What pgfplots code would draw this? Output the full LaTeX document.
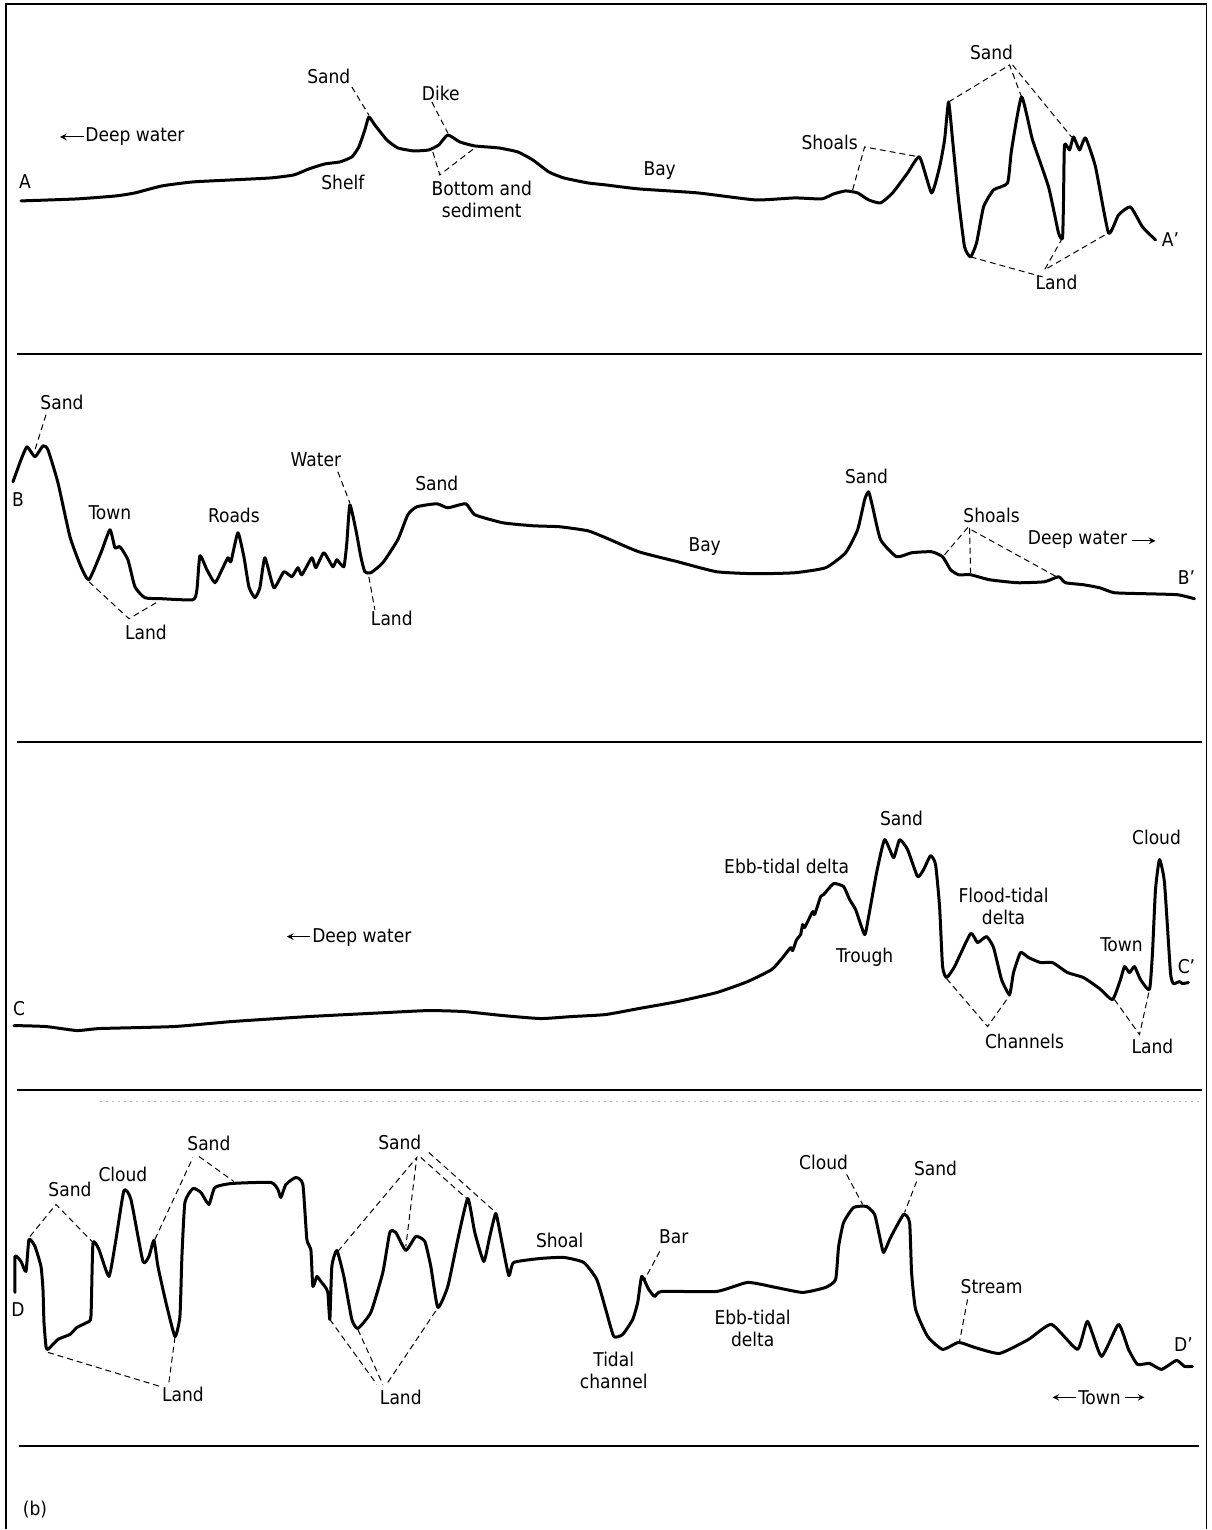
\documentclass[border=0pt]{standalone}
\usepackage{fontspec}
\setmainfont{DejaVu Sans Condensed}
\usepackage{pgfplots}
\pgfplotsset{compat=1.18}
\tikzset{
  prof/.style={black, line width=1.5pt, line join=round, line cap=round, smooth, tension=0.3},
  sep/.style={black, line width=1pt},
  lead/.style={black, line width=0.5pt, dash pattern=on 3pt off 2pt},
  lab/.style={font=\fontsize{9.5}{11}\selectfont, inner sep=0pt, align=center},
}
\begin{document}
\begin{tikzpicture}
\begin{axis}[
  width=606pt, height=765pt, scale only axis,
  xmin=0, xmax=1212, ymin=0, ymax=1530, y dir=reverse,
  hide axis, clip=false,
]
% extent and frame
\addplot[draw=none] coordinates {(0,0) (1212,1530)};
\addplot[black, line width=0.7pt] coordinates {(6,1530) (6,4) (1207,4) (1207,1530)};
\addplot[sep] coordinates {(17,354) (1203,354)};
\addplot[sep] coordinates {(17,742) (1203,742)};
\addplot[sep] coordinates {(17,1090) (1203,1090)};
\addplot[sep] coordinates {(19,1447) (1200,1447)};
\addplot[gray!50, line width=0.4pt, dash pattern=on 1pt off 2pt] coordinates {(100,1102) (1200,1102)};

% ---------------- Panel A ----------------
\addplot[prof] coordinates {(21,201)(77,199)(116,196)(135,193)(162,186)(193,182)(232,180)(271,178)(294,175)(309,169)(325,164)(340,162)(352,157)(359,147)(365,130)(369,117)(375,125)(387,140)(398,148)(414,151)(429,150)(439,145)(448,135)(460,142)(475,146)(499,148)(518,152)(533,160)(549,172)(564,178)(588,183)(606,185)(639,189)(698,193)(756,200)(795,198)(822,199)(834,194)(846,191)(858,193)(869,200)(881,203)(893,193)(908,173)(920,157)(932,193)(940,167)(945,140)(949,102)(953,140)(959,200)(965,247)(971,257)(977,243)(984,207)(994,190)(1008,183)(1012,150)(1022,97)(1033,140)(1049,187)(1059,233)(1063,238)(1064,200)(1065,145)(1070,150)(1074,137)(1080,150)(1086,138)(1096,167)(1109,233)(1119,215)(1131,207)(1143,227)(1156,240)};
\addplot[lead] coordinates {(352,87) (369,115)};
\addplot[lead] coordinates {(432,102) (448,133)};
\addplot[lead] coordinates {(433,152) (440,175) (475,148)};
\addplot[lead] coordinates {(853,190) (865,147) (920,157)};
\addplot[lead] coordinates {(949,102) (1010,65) (1022,97)};
\addplot[lead] coordinates {(1013,65) (1072,137)};
\addplot[lead] coordinates {(971,257) (1043,277)};
\addplot[lead] coordinates {(1063,238) (1045,270) (1109,233)};
\addplot[black, line width=0.5pt, -stealth] coordinates {(84,137) (60,137)};
\node[lab] at (axis cs:25,182) {A};
\node[lab, anchor=west] at (axis cs:85,137) {Deep water};
\node[lab] at (axis cs:329,76) {Sand};
\node[lab] at (axis cs:441,93) {Dike};
\node[lab] at (axis cs:343,183) {Shelf};
\node[lab] at (axis cs:482,200) {Bottom and\\sediment};
\node[lab] at (axis cs:660,171) {Bay};
\node[lab] at (axis cs:830,142) {Shoals};
\node[lab] at (axis cs:992,52) {Sand};
\node[lab] at (axis cs:1057,283) {Land};
\node[lab] at (axis cs:1171,240) {A'};

% ---------------- Panel B ----------------
\addplot[prof] coordinates {(13,482)(21,460)(27,447)(35,457)(43,446)(48,450)(58,483)(70,537)(81,567)(89,580)(101,553)(110,530)(115,548)(120,547)(128,560)(135,587)(145,598)(162,599)(193,600)(197,590)(200,556)(207,570)(215,583)(222,570)(228,558)(231,562)(238,533)(244,557)(249,587)(255,598)(260,588)(265,558)(274,588)(284,572)(292,577)(298,568)(302,575)(312,558)(316,568)(324,553)(333,567)(337,560)(344,567)(347,543)(350,505)(356,530)(361,557)(365,572)(371,573)(383,563)(398,540)(408,515)(417,507)(437,504)(448,508)(466,504)(475,515)(503,523)(533,526)(560,527)(588,531)(606,538)(639,552)(678,562)(717,572)(756,574)(795,573)(826,568)(846,553)(858,530)(865,500)(869,492)(873,507)(881,540)(897,557)(912,553)(932,552)(943,557)(951,570)(959,575)(971,575)(990,580)(1018,583)(1045,582)(1059,577)(1066,583)(1084,585)(1100,588)(1115,593)(1146,594)(1178,595)(1195,599)};
\addplot[lead] coordinates {(46,415) (35,450)};
\addplot[lead] coordinates {(89,582) (129,619) (158,602)};
\addplot[lead] coordinates {(338,472) (350,503)};
\addplot[lead] coordinates {(369,577) (375,610)};
\addplot[lead] coordinates {(945,555) (968,528) (1057,577)};
\addplot[lead] coordinates {(970,528) (971,573)};
\addplot[black, line width=0.5pt, -stealth] coordinates {(1133,541) (1156,541)};
\node[lab] at (axis cs:18,500) {B};
\node[lab] at (axis cs:62,403) {Sand};
\node[lab] at (axis cs:110,513) {Town};
\node[lab] at (axis cs:146,633) {Land};
\node[lab] at (axis cs:234,516) {Roads};
\node[lab] at (axis cs:316,460) {Water};
\node[lab] at (axis cs:437,484) {Sand};
\node[lab] at (axis cs:392,619) {Land};
\node[lab] at (axis cs:705,547) {Bay};
\node[lab] at (axis cs:867,477) {Sand};
\node[lab] at (axis cs:992,516) {Shoals};
\node[lab, anchor=east] at (axis cs:1128,540) {Deep water};
\node[lab] at (axis cs:1187,578) {B'};

% ---------------- Panel C ----------------
\addplot[prof] coordinates {(14,1026)(46,1027)(77,1031)(100,1029)(174,1027)(232,1022)(309,1017)(387,1013)(429,1011)(464,1012)(503,1016)(541,1019)(572,1017)(606,1015)(639,1009)(678,1002)(717,993)(748,982)(772,970)(783,958)(791,948)(793,951)(797,940)(801,935)(803,925)(805,928)(813,912)(815,915)(821,897)(824,895)(834,884)(844,887)(850,900)(856,910)(865,935)(869,917)(877,873)(885,840)(894,858)(900,840)(908,850)(918,877)(924,870)(931,856)(936,865)(940,907)(943,967)(947,978)(955,967)(971,934)(978,943)(987,937)(994,948)(1002,980)(1010,995)(1014,973)(1021,953)(1029,958)(1041,963)(1053,963)(1068,973)(1084,978)(1100,989)(1113,1000)(1121,980)(1125,967)(1130,973)(1135,967)(1141,980)(1150,990)(1153,953)(1156,890)(1160,860)(1165,883)(1171,973)(1174,984)(1180,982)(1183,984)(1189,983)};
\addplot[lead] coordinates {(947,979) (988,1027) (1010,996)};
\addplot[lead] coordinates {(1115,1000) (1140,1035) (1150,990)};
\addplot[black, line width=0.5pt, -stealth] coordinates {(310,937) (287,937)};
\node[lab] at (axis cs:19,1009) {C};
\node[lab, anchor=west] at (axis cs:312,938) {Deep water};
\node[lab] at (axis cs:787,867) {Ebb-tidal delta};
\node[lab] at (axis cs:902,819) {Sand};
\node[lab] at (axis cs:865,958) {Trough};
\node[lab] at (axis cs:1004,907) {Flood-tidal\\delta};
\node[lab] at (axis cs:1122,945) {Town};
\node[lab] at (axis cs:1157,838) {Cloud};
\node[lab] at (axis cs:1187,967) {C'};
\node[lab] at (axis cs:1025,1042) {Channels};
\node[lab] at (axis cs:1153,1047) {Land};

% ---------------- Panel D ----------------
\addplot[prof] coordinates {(15,1293)(15,1257)(21,1262)(26,1272)(29,1240)(35,1247)(41,1267)(43,1290)(44,1323)(46,1347)(48,1350)(58,1340)(70,1335)(77,1328)(87,1323)(91,1317)(93,1244)(99,1250)(109,1277)(116,1240)(124,1191)(131,1200)(143,1262)(149,1257)(154,1241)(158,1267)(166,1303)(175,1337)(180,1317)(182,1257)(185,1203)(193,1189)(201,1193)(209,1205)(215,1188)(232,1184)(271,1183)(278,1190)(281,1198)(286,1185)(296,1178)(303,1185)(307,1240)(311,1250)(313,1287)(317,1277)(321,1282)(325,1287)(328,1293)(330,1320)(332,1267)(337,1251)(344,1277)(352,1320)(358,1329)(371,1313)(383,1273)(390,1233)(396,1233)(406,1251)(416,1237)(425,1242)(431,1267)(438,1308)(448,1287)(458,1240)(468,1199)(475,1233)(484,1262)(490,1237)(496,1214)(501,1237)(509,1276)(514,1263)(541,1259)(564,1258)(584,1263)(597,1280)(606,1310)(614,1337)(623,1335)(633,1320)(638,1303)(642,1277)(649,1290)(655,1297)(662,1292)(717,1292)(748,1283)(776,1288)(803,1293)(826,1288)(836,1280)(839,1247)(844,1223)(854,1208)(867,1207)(875,1215)(880,1237)(884,1253)(891,1238)(904,1215)(910,1223)(912,1273)(916,1310)(928,1337)(943,1350)(959,1343)(975,1348)(1000,1354)(1029,1340)(1052,1325)(1078,1350)(1088,1322)(1102,1357)(1119,1325)(1129,1350)(1138,1365)(1150,1364)(1162,1370)(1177,1361)(1185,1367)(1193,1367)};
\addplot[lead] coordinates {(30,1237) (56,1205) (93,1243)};
\addplot[lead] coordinates {(155,1240) (193,1158)};
\addplot[lead] coordinates {(199,1157) (234,1182)};
\addplot[lead] coordinates {(48,1353) (160,1387)};
\addplot[lead] coordinates {(169,1383) (175,1338)};
\addplot[lead] coordinates {(338,1252) (417,1158) (406,1247)};
\addplot[lead] coordinates {(421,1158) (468,1200)};
\addplot[lead] coordinates {(429,1153) (496,1213)};
\addplot[lead] coordinates {(330,1320) (377,1385)};
\addplot[lead] coordinates {(358,1330) (383,1385)};
\addplot[lead] coordinates {(388,1383) (437,1310)};
\addplot[lead] coordinates {(660,1252) (645,1280)};
\addplot[lead] coordinates {(847,1175) (863,1205)};
\addplot[lead] coordinates {(917,1182) (905,1213)};
\addplot[lead] coordinates {(968,1300) (960,1342)};
\addplot[black, line width=0.5pt, -stealth] coordinates {(1076,1398) (1053,1398)};
\addplot[black, line width=0.5pt, -stealth] coordinates {(1125,1398) (1145,1398)};
\node[lab] at (axis cs:18,1310) {D};
\node[lab] at (axis cs:70,1190) {Sand};
\node[lab] at (axis cs:123,1175) {Cloud};
\node[lab] at (axis cs:209,1144) {Sand};
\node[lab] at (axis cs:183,1395) {Land};
\node[lab] at (axis cs:400,1143) {Sand};
\node[lab] at (axis cs:401,1398) {Land};
\node[lab] at (axis cs:560,1241) {Shoal};
\node[lab] at (axis cs:614,1371) {Tidal\\channel};
\node[lab] at (axis cs:674,1237) {Bar};
\node[lab] at (axis cs:753,1329) {Ebb-tidal\\delta};
\node[lab] at (axis cs:824,1163) {Cloud};
\node[lab] at (axis cs:936,1169) {Sand};
\node[lab] at (axis cs:992,1287) {Stream};
\node[lab] at (axis cs:1100,1398) {Town};
\node[lab] at (axis cs:1184,1345) {D'};
\node[lab] at (axis cs:35,1510) {(b)};
\end{axis}
\end{tikzpicture}
\end{document}
